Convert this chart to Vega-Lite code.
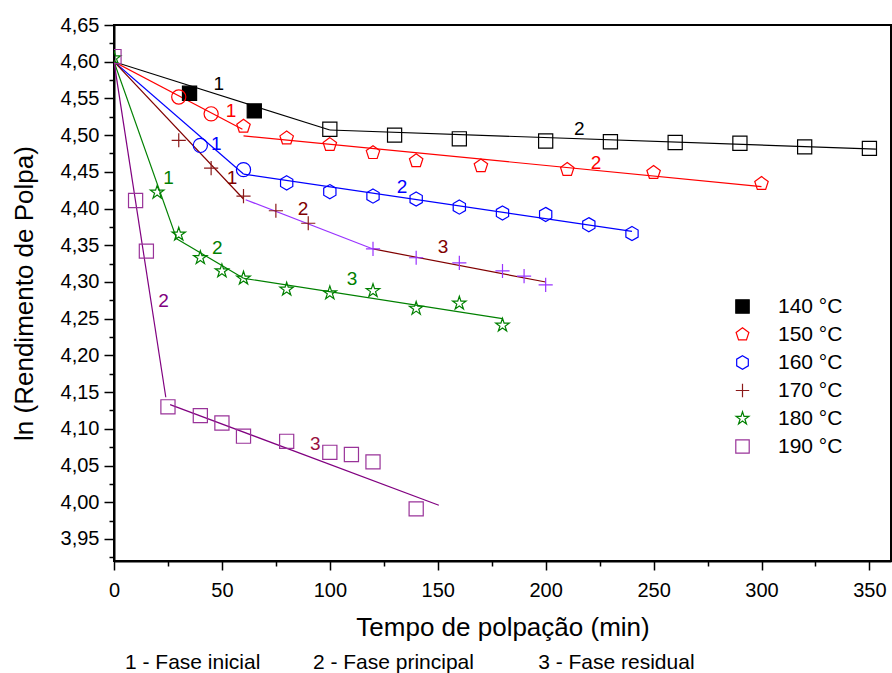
{
  "$schema": "https://vega.github.io/schema/vega-lite/v6.json",
  "width": 777,
  "height": 536,
  "autosize": {"type": "none"},
  "padding": {"left": 114, "top": 25, "right": 1, "bottom": 112},
  "background": "white",
  "config": {
    "font": "Liberation Sans",
    "locale": {"number": {"decimal": ",", "thousands": ".", "grouping": [3], "currency": ["", ""]}},
    "view": {"stroke": "black", "strokeWidth": 2},
    "axis": {
      "grid": false,
      "domainColor": "black",
      "domainWidth": 2,
      "tickColor": "black",
      "tickWidth": 1.5,
      "labelFont": "Liberation Sans",
      "labelFontSize": 20,
      "labelColor": "black",
      "labelFlush": false,
      "labelOverlap": false,
      "titleFont": "Liberation Sans",
      "titleFontSize": 26,
      "titleFontWeight": "normal",
      "titleColor": "black"
    }
  },
  "title": {
    "text": "1 - Fase inicial\u00a0\u00a0\u00a0\u00a0\u00a0\u00a0\u00a0\u00a0\u00a02 - Fase principal\u00a0\u00a0\u00a0\u00a0\u00a0\u00a0\u00a0\u00a0\u00a0\u00a0\u00a03 - Fase residual",
    "orient": "bottom",
    "anchor": "start",
    "frame": "group",
    "font": "Liberation Sans",
    "fontSize": 21,
    "fontWeight": "normal",
    "color": "black",
    "offset": 12,
    "dx": 11
  },
  "datasets": {
    "pts": [
      {"x": 35, "y": 4.557, "k": "140 °C"},
      {"x": 65, "y": 4.533, "k": "140 °C"},
      {"x": 100, "y": 4.508, "k": "a140"},
      {"x": 130, "y": 4.500, "k": "a140"},
      {"x": 160, "y": 4.495, "k": "a140"},
      {"x": 200, "y": 4.492, "k": "a140"},
      {"x": 230, "y": 4.491, "k": "a140"},
      {"x": 260, "y": 4.490, "k": "a140"},
      {"x": 290, "y": 4.489, "k": "a140"},
      {"x": 320, "y": 4.484, "k": "a140"},
      {"x": 350, "y": 4.482, "k": "a140"},
      {"x": 30, "y": 4.552, "k": "c150"},
      {"x": 45, "y": 4.529, "k": "c150"},
      {"x": 60, "y": 4.512, "k": "150 °C"},
      {"x": 80, "y": 4.496, "k": "150 °C"},
      {"x": 100, "y": 4.487, "k": "150 °C"},
      {"x": 120, "y": 4.476, "k": "150 °C"},
      {"x": 140, "y": 4.465, "k": "150 °C"},
      {"x": 170, "y": 4.458, "k": "150 °C"},
      {"x": 210, "y": 4.453, "k": "150 °C"},
      {"x": 250, "y": 4.449, "k": "150 °C"},
      {"x": 300, "y": 4.434, "k": "150 °C"},
      {"x": 40, "y": 4.486, "k": "c160"},
      {"x": 60, "y": 4.453, "k": "c160"},
      {"x": 80, "y": 4.435, "k": "160 °C"},
      {"x": 100, "y": 4.423, "k": "160 °C"},
      {"x": 120, "y": 4.417, "k": "160 °C"},
      {"x": 140, "y": 4.413, "k": "160 °C"},
      {"x": 160, "y": 4.402, "k": "160 °C"},
      {"x": 180, "y": 4.394, "k": "160 °C"},
      {"x": 200, "y": 4.392, "k": "160 °C"},
      {"x": 220, "y": 4.378, "k": "160 °C"},
      {"x": 240, "y": 4.366, "k": "160 °C"},
      {"x": 30, "y": 4.493, "k": "170 °C"},
      {"x": 45, "y": 4.455, "k": "170 °C"},
      {"x": 60, "y": 4.417, "k": "170 °C"},
      {"x": 75, "y": 4.397, "k": "170 °C"},
      {"x": 90, "y": 4.380, "k": "170 °C"},
      {"x": 120, "y": 4.345, "k": "v170"},
      {"x": 140, "y": 4.333, "k": "v170"},
      {"x": 160, "y": 4.326, "k": "v170"},
      {"x": 180, "y": 4.315, "k": "v170"},
      {"x": 190, "y": 4.308, "k": "v170"},
      {"x": 200, "y": 4.296, "k": "v170"},
      {"x": 0, "y": 4.605, "k": "180 °C"},
      {"x": 20, "y": 4.422, "k": "180 °C"},
      {"x": 30, "y": 4.365, "k": "180 °C"},
      {"x": 40, "y": 4.333, "k": "180 °C"},
      {"x": 50, "y": 4.315, "k": "180 °C"},
      {"x": 60, "y": 4.305, "k": "180 °C"},
      {"x": 80, "y": 4.290, "k": "180 °C"},
      {"x": 100, "y": 4.285, "k": "180 °C"},
      {"x": 120, "y": 4.288, "k": "180 °C"},
      {"x": 140, "y": 4.264, "k": "180 °C"},
      {"x": 160, "y": 4.271, "k": "180 °C"},
      {"x": 180, "y": 4.241, "k": "180 °C"},
      {"x": 0, "y": 4.607, "k": "190 °C"},
      {"x": 10, "y": 4.411, "k": "190 °C"},
      {"x": 15, "y": 4.342, "k": "190 °C"},
      {"x": 25, "y": 4.130, "k": "190 °C"},
      {"x": 40, "y": 4.118, "k": "190 °C"},
      {"x": 50, "y": 4.108, "k": "190 °C"},
      {"x": 60, "y": 4.090, "k": "190 °C"},
      {"x": 80, "y": 4.083, "k": "190 °C"},
      {"x": 100, "y": 4.068, "k": "190 °C"},
      {"x": 110, "y": 4.065, "k": "190 °C"},
      {"x": 120, "y": 4.055, "k": "190 °C"},
      {"x": 140, "y": 3.991, "k": "190 °C"}
    ],
    "fits": [
      {"s": "140-1", "g": "140", "x": 0, "y": 4.600},
      {"s": "140-1", "g": "140", "x": 100, "y": 4.507},
      {"s": "140-2", "g": "140", "x": 100, "y": 4.507},
      {"s": "140-2", "g": "140", "x": 353, "y": 4.481},
      {"s": "150-1", "g": "150", "x": 0, "y": 4.600},
      {"s": "150-1", "g": "150", "x": 59.5, "y": 4.508},
      {"s": "150-2", "g": "150", "x": 60, "y": 4.499},
      {"s": "150-2", "g": "150", "x": 300, "y": 4.430},
      {"s": "160-1", "g": "160", "x": 0, "y": 4.600},
      {"s": "160-1", "g": "160", "x": 60, "y": 4.447},
      {"s": "160-2", "g": "160", "x": 60, "y": 4.447},
      {"s": "160-2", "g": "160", "x": 240, "y": 4.369},
      {"s": "170-1", "g": "170", "x": 0, "y": 4.600},
      {"s": "170-1", "g": "170", "x": 60, "y": 4.413},
      {"s": "170-2", "g": "170v", "x": 61, "y": 4.412},
      {"s": "170-2", "g": "170v", "x": 120, "y": 4.345},
      {"s": "170-3", "g": "170", "x": 120, "y": 4.345},
      {"s": "170-3", "g": "170", "x": 200, "y": 4.300},
      {"s": "180-1", "g": "180", "x": 0, "y": 4.600},
      {"s": "180-1", "g": "180", "x": 29, "y": 4.359},
      {"s": "180-2", "g": "180", "x": 29, "y": 4.359},
      {"s": "180-2", "g": "180", "x": 60, "y": 4.305},
      {"s": "180-3", "g": "180", "x": 60, "y": 4.305},
      {"s": "180-3", "g": "180", "x": 180, "y": 4.250},
      {"s": "190-2", "g": "190", "x": 0, "y": 4.600},
      {"s": "190-2", "g": "190", "x": 24, "y": 4.143},
      {"s": "190-3", "g": "190", "x": 26, "y": 4.133},
      {"s": "190-3", "g": "190", "x": 150.5, "y": 3.996}
    ],
    "labs": [
      {"t": "1", "g": "140", "x": 48.5, "y": 4.570},
      {"t": "2", "g": "140", "x": 215.6, "y": 4.508},
      {"t": "1", "g": "150", "x": 54.2, "y": 4.533},
      {"t": "2", "g": "150", "x": 223.3, "y": 4.462},
      {"t": "1", "g": "160", "x": 47.4, "y": 4.488},
      {"t": "2", "g": "160", "x": 133.4, "y": 4.429},
      {"t": "1", "g": "170", "x": 54.7, "y": 4.441},
      {"t": "2", "g": "170", "x": 87.6, "y": 4.400},
      {"t": "3", "g": "170", "x": 152.4, "y": 4.347},
      {"t": "1", "g": "180", "x": 25.3, "y": 4.442},
      {"t": "2", "g": "180", "x": 47.8, "y": 4.346},
      {"t": "3", "g": "180", "x": 110.3, "y": 4.304},
      {"t": "2", "g": "190", "x": 23, "y": 4.274},
      {"t": "3", "g": "190b", "x": 93.3, "y": 4.080}
    ]
  },
  "encoding": {
    "x": {
      "field": "x",
      "type": "quantitative",
      "scale": {"domain": [0, 360], "nice": false, "zero": false},
      "axis": {
        "title": "Tempo de polpação (min)",
        "values": [0, 25, 50, 75, 100, 125, 150, 175, 200, 225, 250, 275, 300, 325, 350],
        "format": "d",
        "labelExpr": "datum.value % 50 === 0 ? datum.label : ''",
        "tickSize": {"condition": {"test": "datum.value % 50 === 0", "value": 9}, "value": 5},
        "labelPadding": 10,
        "titlePadding": 14
      }
    },
    "y": {
      "field": "y",
      "type": "quantitative",
      "scale": {"domain": [3.92, 4.65], "nice": false, "zero": false},
      "axis": {
        "title": "ln (Rendimento de Polpa)",
        "values": [3.925, 3.95, 3.975, 4.0, 4.025, 4.05, 4.075, 4.1, 4.125, 4.15, 4.175, 4.2, 4.225, 4.25, 4.275, 4.3, 4.325, 4.35, 4.375, 4.4, 4.425, 4.45, 4.475, 4.5, 4.525, 4.55, 4.575, 4.6, 4.625, 4.65],
        "format": ".2f",
        "labelExpr": "abs(datum.value * 20 - round(datum.value * 20)) < 0.01 ? datum.label : ''",
        "tickSize": {"condition": {"test": "abs(datum.value * 20 - round(datum.value * 20)) < 0.01", "value": 10}, "value": 5},
        "labelPadding": 5,
        "titlePadding": 23
      }
    }
  },
  "layer": [
    {
      "data": {"name": "fits"},
      "mark": {"type": "line", "strokeWidth": 1.2, "clip": true},
      "encoding": {
        "detail": {"field": "s", "type": "nominal"},
        "color": {
          "field": "g",
          "type": "nominal",
          "scale": {
            "domain": ["140", "150", "160", "170", "170v", "180", "190", "190b"],
            "range": ["#000000", "#ff0000", "#0000ff", "#800000", "#9933ff", "#008000", "#800080", "#99103d"]
          },
          "legend": null
        }
      }
    },
    {
      "data": {"name": "pts"},
      "mark": {"type": "point", "size": 200, "strokeWidth": 1.2, "opacity": 1, "clip": true},
      "encoding": {
        "shape": {
          "field": "k",
          "type": "nominal",
          "scale": {
            "domain": ["140 °C", "150 °C", "160 °C", "170 °C", "180 °C", "190 °C", "a140", "c150", "c160", "v170"],
            "range": ["square", "M0,-1L0.951,-0.309L0.588,0.809L-0.588,0.809L-0.951,-0.309Z", "M0,-1L0.866,-0.5L0.866,0.5L0,1L-0.866,0.5L-0.866,-0.5Z", "M-1,0L1,0M0,-1L0,1", "M0,-1L0.2245,-0.309L0.951,-0.309L0.363,0.118L0.588,0.809L0,0.382L-0.588,0.809L-0.363,0.118L-0.951,-0.309L-0.2245,-0.309Z", "square", "square", "circle", "circle", "M-1,0L1,0M0,-1L0,1"]
          },
          "legend": {
            "values": ["140 °C", "150 °C", "160 °C", "170 °C", "180 °C", "190 °C"],
            "title": null,
            "orient": "none",
            "legendX": 618,
            "legendY": 271,
            "labelFontSize": 21,
            "labelFont": "Liberation Sans",
            "labelColor": "black",
            "labelOffset": 25,
            "symbolSize": 180,
            "symbolStrokeWidth": 1.2,
            "rowPadding": 6,
            "padding": 0
          }
        },
        "stroke": {
          "field": "k",
          "type": "nominal",
          "scale": {
            "domain": ["140 °C", "150 °C", "160 °C", "170 °C", "180 °C", "190 °C", "a140", "c150", "c160", "v170"],
            "range": ["#000000", "#ff0000", "#0000ff", "#8b1a1a", "#008000", "#993399", "#000000", "#ff0000", "#0000ff", "#9933ff"]
          },
          "legend": {
            "values": ["140 °C", "150 °C", "160 °C", "170 °C", "180 °C", "190 °C"],
            "title": null,
            "orient": "none",
            "legendX": 618,
            "legendY": 271,
            "labelFontSize": 21,
            "labelFont": "Liberation Sans",
            "labelColor": "black",
            "labelOffset": 25,
            "symbolSize": 180,
            "symbolStrokeWidth": 1.2,
            "rowPadding": 6,
            "padding": 0
          }
        },
        "fill": {
          "field": "k",
          "type": "nominal",
          "scale": {
            "domain": ["140 °C", "150 °C", "160 °C", "170 °C", "180 °C", "190 °C", "a140", "c150", "c160", "v170"],
            "range": ["#000000", "transparent", "transparent", "transparent", "transparent", "transparent", "transparent", "transparent", "transparent", "transparent"]
          },
          "legend": {
            "values": ["140 °C", "150 °C", "160 °C", "170 °C", "180 °C", "190 °C"],
            "title": null,
            "orient": "none",
            "legendX": 618,
            "legendY": 271,
            "labelFontSize": 21,
            "labelFont": "Liberation Sans",
            "labelColor": "black",
            "labelOffset": 25,
            "symbolSize": 180,
            "symbolStrokeWidth": 1.2,
            "rowPadding": 6,
            "padding": 0
          }
        }
      }
    },
    {
      "data": {"name": "labs"},
      "mark": {"type": "text", "font": "Liberation Sans", "fontSize": 19, "align": "center", "baseline": "middle"},
      "encoding": {
        "text": {"field": "t", "type": "nominal"},
        "color": {
          "field": "g",
          "type": "nominal",
          "scale": {
            "domain": ["140", "150", "160", "170", "170v", "180", "190", "190b"],
            "range": ["#000000", "#ff0000", "#0000ff", "#800000", "#9933ff", "#008000", "#800080", "#99103d"]
          },
          "legend": null
        }
      }
    }
  ]
}
